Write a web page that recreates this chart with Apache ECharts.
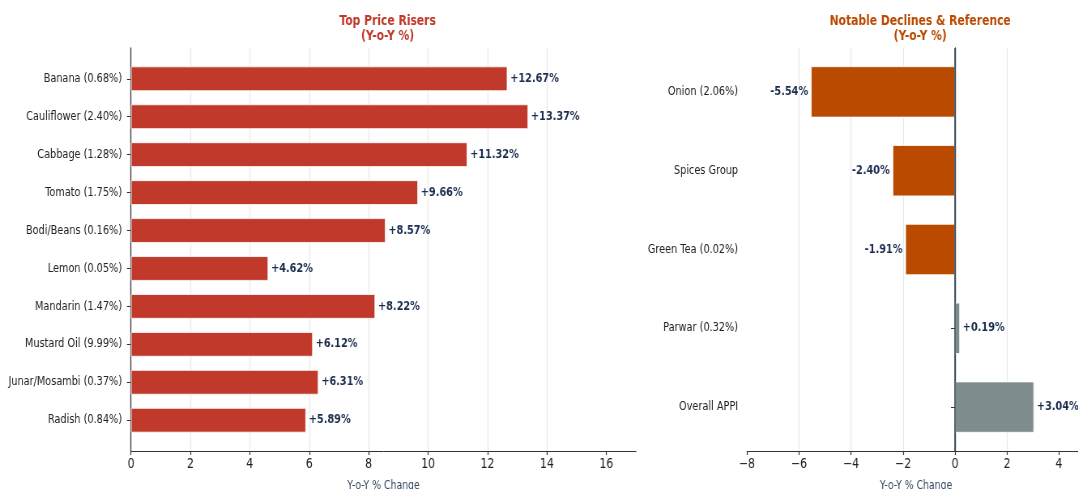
<!DOCTYPE html>
<html><head><meta charset="utf-8">
<script src="https://cdn.jsdelivr.net/npm/echarts@6/dist/echarts.min.js"></script>
<style>
html,body{margin:0;padding:0;background:#fff;overflow:hidden;width:1078px;height:489px}
#c{width:1331px;height:489px;transform:scaleX(0.81);transform-origin:0 0}
</style>
</head><body><div id="c"></div>
<script>
const riserCategories = ['Banana (0.68%)','Cauliflower (2.40%)','Cabbage (1.28%)','Tomato (1.75%)','Bodi/Beans (0.16%)','Lemon (0.05%)','Mandarin (1.47%)','Mustard Oil (9.99%)','Junar/Mosambi (0.37%)','Radish (0.84%)'];
const riserValues = [12.67, 13.37, 11.32, 9.66, 8.57, 4.62, 8.22, 6.12, 6.31, 5.89];
const riserTicks = [0, 2, 4, 6, 8, 10, 12, 14, 16];
const declineCategories = ['Onion (2.06%)','Spices Group','Green Tea (0.02%)','Parwar (0.32%)','Overall APPI'];
const declineValues = [-5.54, -2.40, -1.91, 0.19, 3.04];
const declineTicks = [-8, -6, -4, -2, 0, 2, 4];

const FONT = "'DejaVu Sans', 'Noto Sans', sans-serif";
const RED = '#c0392b', ORANGE = '#ba4a00', GREY = '#7f8c8d', NAVY = '#1b2d4f';
const fmt = v => (v > 0 ? '+' : '') + v.toFixed(2) + '%';
const tickFmt = v => String(v).replace('-', '\u2212');

const chart = echarts.init(document.getElementById('c'), null, {renderer: 'canvas'});

function axesX(grid, min, max, ticks) {
  return {
    gridIndex: grid, type: 'value', min: min, max: max,
    axisLine: {show: true, lineStyle: {color: '#333', width: 1}},
    axisTick: {show: true, length: 4, customValues: ticks, lineStyle: {color: '#333', width: 1.2}},
    axisLabel: {customValues: ticks, formatter: tickFmt, fontSize: 13.5, color: '#222', margin: 6, fontFamily: FONT},
    splitLine: {show: true, showMinLine: false, showMaxLine: false, lineStyle: {color: '#e6e9ec', width: 1.2}},
    name: 'Y-o-Y % Change', nameLocation: 'middle', nameGap: 29,
    nameTextStyle: {fontSize: 11.5, color: '#34495e', fontFamily: FONT}
  };
}
function barX(grid, min, max) {
  return {gridIndex: grid, type: 'value', min: min, max: max, show: false};
}
function axesY(grid) {
  return {
    gridIndex: grid, type: 'value', min: 0, max: 1,
    axisLine: {show: true, lineStyle: {color: '#333', width: 1.3}},
    axisTick: {show: false}, axisLabel: {show: false}, splitLine: {show: false}
  };
}
function barY(grid, cats) {
  return {
    gridIndex: grid, type: 'category', data: cats, inverse: true,
    axisLine: {show: false},
    axisTick: {show: true, alignWithLabel: true, length: 5, lineStyle: {color: '#333'}},
    axisLabel: {fontSize: 12, color: '#222', margin: 11, fontFamily: FONT},
    splitLine: {show: false}
  };
}
const labelStyle = {show: true, fontWeight: 'bold', fontSize: 12, color: NAVY, distance: 3.5, fontFamily: FONT, formatter: p => fmt(p.value)};
const gridBase = {outerBoundsMode: 'none', containLabel: false};

chart.setOption({
  animation: false,
  backgroundColor: '#fff',
  textStyle: {fontFamily: FONT},
  title: [
    {text: 'Top Price Risers\n(Y-o-Y %)', left: 473.5, top: 8.5, textAlign: 'center',
     textStyle: {fontSize: 13.3, fontWeight: 'bold', color: RED, lineHeight: 15.5, fontFamily: FONT}},
    {text: 'Notable Declines & Reference\n(Y-o-Y %)', left: 1131, top: 8.5, textAlign: 'center',
     textStyle: {fontSize: 13.3, fontWeight: 'bold', color: ORANGE, lineHeight: 15.5, fontFamily: FONT}}
  ],
  grid: [
    Object.assign({left: 161.7, right: 545.8, top: 48, bottom: 38}, gridBase),
    Object.assign({left: 161.7, right: 545.8, top: 59.8, bottom: 49.8}, gridBase),
    Object.assign({left: 922.2, right: -8.5, top: 48, bottom: 38}, gridBase),
    Object.assign({left: 922.2, right: -8.5, top: 52.5, bottom: 42.5}, gridBase)
  ],
  xAxis: [
    axesX(0, 0, 17, riserTicks),
    barX(1, 0, 17),
    axesX(2, -8, 5, declineTicks),
    barX(3, -8, 5)
  ],
  yAxis: [
    axesY(0),
    barY(1, riserCategories),
    axesY(2),
    barY(3, declineCategories)
  ],
  series: [
    {
      type: 'bar', xAxisIndex: 1, yAxisIndex: 1, barWidth: '65%',
      data: riserValues,
      itemStyle: {color: RED, borderColor: '#fff', borderWidth: 0.8},
      label: Object.assign({position: 'right'}, labelStyle)
    },
    {
      type: 'bar', xAxisIndex: 3, yAxisIndex: 3, barWidth: '65%',
      data: declineValues.map(v => ({
        value: v,
        itemStyle: {color: v < 0 ? ORANGE : GREY},
        label: {position: v < 0 ? 'left' : 'right'}
      })),
      itemStyle: {borderColor: '#fff', borderWidth: 0.8},
      label: Object.assign({position: 'right'}, labelStyle)
    },
    {
      type: 'line', xAxisIndex: 2, yAxisIndex: 2, data: [], silent: true,
      markLine: {
        silent: true, symbol: 'none', animation: false,
        label: {show: false},
        lineStyle: {color: '#34495e', width: 1.6, type: 'solid'},
        data: [{xAxis: 0}]
      }
    }
  ]
});
</script></body></html>
